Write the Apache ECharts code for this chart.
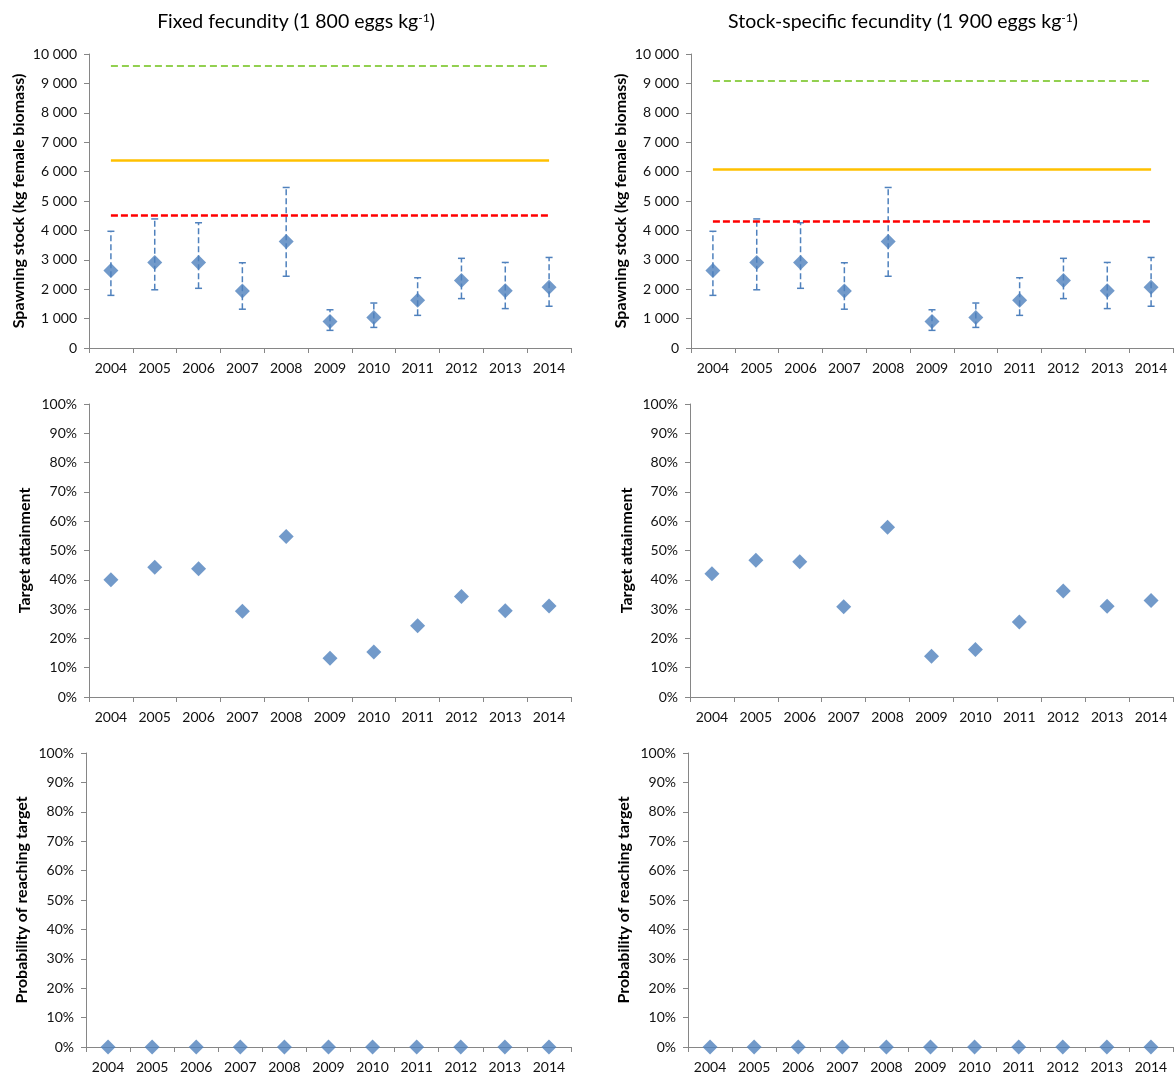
<!DOCTYPE html>
<html>
<head>
<meta charset="utf-8">
<title>Spawning stock and target attainment 2004–2014</title>
<script src="https://cdn.jsdelivr.net/npm/echarts@6/dist/echarts.min.js"></script>
<style>
  html, body { margin: 0; padding: 0; background: #ffffff; }
  #chart { width: 1175px; height: 1077px; }
</style>
</head>
<body>
<div id="chart"></div>
<script>
// Survey years (x categories, shared by all six panels)
const years = ['2004', '2005', '2006', '2007', '2008', '2009', '2010', '2011', '2012', '2013', '2014'];

// Spawning stock estimates (kg female biomass) with lower / upper bounds
const stock      = [2640, 2910, 2910, 1940, 3620,  900, 1040, 1620, 2300, 1950, 2070];
const stockLower = [1790, 1980, 2030, 1320, 2440,  600,  700, 1110, 1680, 1340, 1420];
const stockUpper = [3970, 4390, 4260, 2900, 5460, 1300, 1530, 2390, 3050, 2910, 3080];

// Reference levels per fecundity assumption: [upper (green), target (orange), limit (red)]
const levelsFixed    = [9600, 6400, 4500];
const levelsSpecific = [9100, 6080, 4300];

// Target attainment (%)
const attainFixed    = [40.0, 44.3, 43.8, 29.3, 54.8, 13.2, 15.4, 24.3, 34.3, 29.4, 31.1];
const attainSpecific = [42.1, 46.7, 46.2, 30.8, 57.9, 13.9, 16.2, 25.6, 36.2, 31.0, 32.9];

// Probability of reaching target (%)
const probFixed    = [0, 0, 0, 0, 0, 0, 0, 0, 0, 0, 0];
const probSpecific = [0, 0, 0, 0, 0, 0, 0, 0, 0, 0, 0];

// Panel titles
const titleFixed    = 'Fixed fecundity (1 800 eggs kg{sup|-1})';
const titleSpecific = 'Stock-specific fecundity (1 900 eggs kg{sup|-1})';

// Axis titles
const nameStock  = 'Spawning stock (kg female biomass)';
const nameAttain = 'Target attainment';
const nameProb   = 'Probability of reaching target';

const FONT = 'Lato, "Open Sans", sans-serif';
const BLUE = '#4F81BD';
const AXIS_GREY = '#868686';
const TICK_FONT = 14;
const NAME_FONT = 16;

const chart = echarts.init(document.getElementById('chart'), null, { renderer: 'canvas' });

const grids = [
  { left: 89,  top: 54,  width: 482, height: 294 },
  { left: 691, top: 54,  width: 482, height: 294 },
  { left: 89,  top: 404, width: 482, height: 293 },
  { left: 690, top: 404, width: 483, height: 293 },
  { left: 86,  top: 753, width: 485, height: 294 },
  { left: 688, top: 753, width: 485, height: 294 }
];

const thousands = v => String(v).replace(/\B(?=(\d{3})+(?!\d))/g, ' ');

const xAxes = grids.map((g, i) => ({
  type: 'category',
  gridIndex: i,
  data: years,
  boundaryGap: true,
  axisLine: { lineStyle: { color: AXIS_GREY, width: 1 } },
  axisTick: { show: true, length: 5, inside: false, lineStyle: { color: AXIS_GREY } },
  axisLabel: { color: '#111', fontFamily: FONT, fontSize: TICK_FONT, margin: 13 },
  splitLine: { show: false }
}));

function yAxis(i, name, gap, range) {
  return {
    type: 'value', gridIndex: i, min: 0, max: range.max, interval: range.interval,
    name: name, nameLocation: 'middle', nameGap: gap,
    nameTextStyle: { fontFamily: FONT, fontWeight: 'bold', fontSize: NAME_FONT, color: '#000' },
    axisLine: { show: true, lineStyle: { color: AXIS_GREY } },
    axisTick: { show: true, length: 5, lineStyle: { color: AXIS_GREY } },
    axisLabel: { color: '#111', fontFamily: FONT, fontSize: TICK_FONT, margin: 12, formatter: range.fmt },
    splitLine: { show: false }
  };
}

const stockRange   = { max: 10000, interval: 1000, fmt: thousands };
const percentRange = { max: 100, interval: 10, fmt: v => v + '%' };

const yAxes = [
  yAxis(0, nameStock, 62, stockRange),
  yAxis(1, nameStock, 62, stockRange),
  yAxis(2, nameAttain, 56, percentRange),
  yAxis(3, nameAttain, 55, percentRange),
  yAxis(4, nameProb, 56, percentRange),
  yAxis(5, nameProb, 56, percentRange)
];

// Dashed vertical error bar with short caps at both ends
function errorBarRender(params, api) {
  const x = api.value(0);
  const lo = api.coord([x, api.value(1)]);
  const hi = api.coord([x, api.value(2)]);
  const cap = 3.5;
  const style = { stroke: BLUE, lineWidth: 1.5, lineDash: [6, 3] };
  const capStyle = { stroke: BLUE, lineWidth: 1.5 };
  return {
    type: 'group',
    children: [
      { type: 'line', shape: { x1: lo[0], y1: lo[1], x2: hi[0], y2: hi[1] }, style: style },
      { type: 'line', shape: { x1: lo[0] - cap, y1: lo[1], x2: lo[0] + cap, y2: lo[1] }, style: capStyle },
      { type: 'line', shape: { x1: hi[0] - cap, y1: hi[1], x2: hi[0] + cap, y2: hi[1] }, style: capStyle }
    ]
  };
}

function errorBars(i) {
  return {
    type: 'custom', xAxisIndex: i, yAxisIndex: i, silent: true, z: 2,
    renderItem: errorBarRender,
    encode: { x: 0, y: [1, 2] },
    data: years.map((y, k) => [k, stockLower[k], stockUpper[k]])
  };
}

function levelLines(levels) {
  const first = years[0], last = years[years.length - 1];
  const seg = (v, style) => [
    { coord: [first, v], lineStyle: style },
    { coord: [last, v] }
  ];
  return {
    silent: true,
    symbol: ['none', 'none'],
    label: { show: false },
    animation: false,
    data: [
      seg(levels[0], { color: '#92D050', width: 2, type: [7, 4] }),
      seg(levels[1], { color: '#FFC000', width: 2.5, type: 'solid' }),
      seg(levels[2], { color: '#FF0000', width: 2.5, type: [7, 3] })
    ]
  };
}

function diamonds(i, values, extra) {
  return Object.assign({
    type: 'scatter', xAxisIndex: i, yAxisIndex: i,
    symbol: 'diamond', symbolSize: 15, z: 5,
    itemStyle: { color: BLUE },
    data: values
  }, extra || {});
}

const series = [
  errorBars(0),
  diamonds(0, stock, { markLine: levelLines(levelsFixed) }),
  errorBars(1),
  diamonds(1, stock, { markLine: levelLines(levelsSpecific) }),
  diamonds(2, attainFixed),
  diamonds(3, attainSpecific),
  diamonds(4, probFixed),
  diamonds(5, probSpecific)
];

const titleRich = {
  sup: { fontFamily: FONT, fontSize: 12, color: '#000', verticalAlign: 'top', padding: [0, 0, 8, 0] }
};

chart.setOption({
  animation: false,
  backgroundColor: '#ffffff',
  title: [
    { text: titleFixed, left: 291, top: 7, textAlign: 'center',
      textStyle: { fontFamily: FONT, fontSize: 19.5, fontWeight: 'normal', color: '#000', rich: titleRich } },
    { text: titleSpecific, left: 898, top: 7, textAlign: 'center',
      textStyle: { fontFamily: FONT, fontSize: 19.5, fontWeight: 'normal', color: '#000', rich: titleRich } }
  ],
  grid: grids,
  xAxis: xAxes,
  yAxis: yAxes,
  series: series
});
</script>
</body>
</html>
